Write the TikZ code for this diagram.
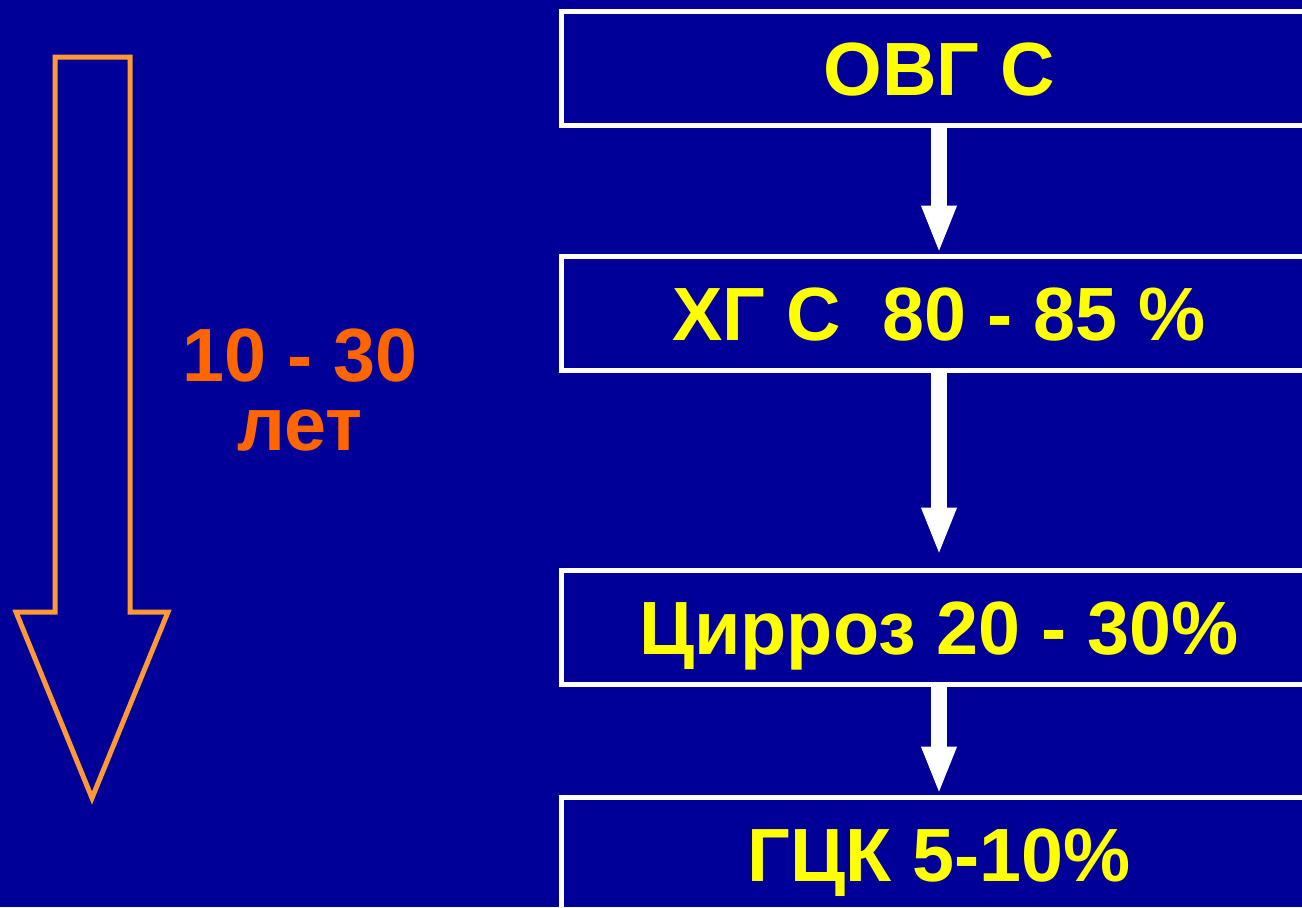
\documentclass[tikz,border=0pt]{standalone}
\usepackage{fontspec}
\setmainfont{Liberation Sans}
\usetikzlibrary{arrows.meta}
\definecolor{slidebg}{RGB}{0,0,153}
\definecolor{labelyellow}{RGB}{255,255,0}
\definecolor{yearsorange}{RGB}{255,102,0}
\definecolor{outlineorange}{RGB}{255,153,51}
\tikzset{
  stagebox/.style={draw=white, line width=3.75pt, minimum width=567pt, minimum height=85.5pt,
    inner sep=0pt, text=labelyellow, font=\fontsize{56.6}{60}\selectfont\bfseries,
    text height=40.5pt, text depth=0pt},
  flowarrow/.style={draw=white, line width=12pt, -{Triangle[length=36pt, width=24pt]}},
  yearstext/.style={text=yearsorange, font=\fontsize{56.6}{60}\selectfont\bfseries, anchor=base, inner sep=0pt},
}
\begin{document}
\begin{tikzpicture}[x=0.75pt, y=-0.75pt]
  % page and background
  \fill[slidebg] (0,0) rectangle (1302,907);
  \useasboundingbox (0,0) rectangle (1302,907);
  \clip (0,0) rectangle (1302,907);

  % stages of the disease
  \node[stagebox] (ovg)  at (939,68.5) {ОВГ С};
  \node[stagebox] (hg)   at (939,313)  {ХГ С~~80 - 85 \%};
  \node[stagebox] (cirr) at (939,627)  {Цирроз 20 - 30\%};
  \node[stagebox] (hcc)  at (939,854)  {ГЦК 5-10\%};

  % transitions between stages
  \draw[flowarrow] ([yshift=3pt]ovg.south) -- (hg.north);
  \draw[flowarrow, shorten >=9pt] (hg.south) -- (cirr.north);
  \draw[flowarrow] (cirr.south) -- (hcc.north);

  % hollow time arrow on the left
  \draw[outlineorange, line width=3.75pt, line join=miter]
    (55,57) -- (130,57) -- (130,612) -- (168,612) -- (92,798)
    -- (16,612) -- (55,612) -- cycle;

  % duration label
  \node[yearstext] (span)  at (300,381) {10 - 30};
  \node[yearstext] (years) at (300,450) {лет};
\end{tikzpicture}
\end{document}
